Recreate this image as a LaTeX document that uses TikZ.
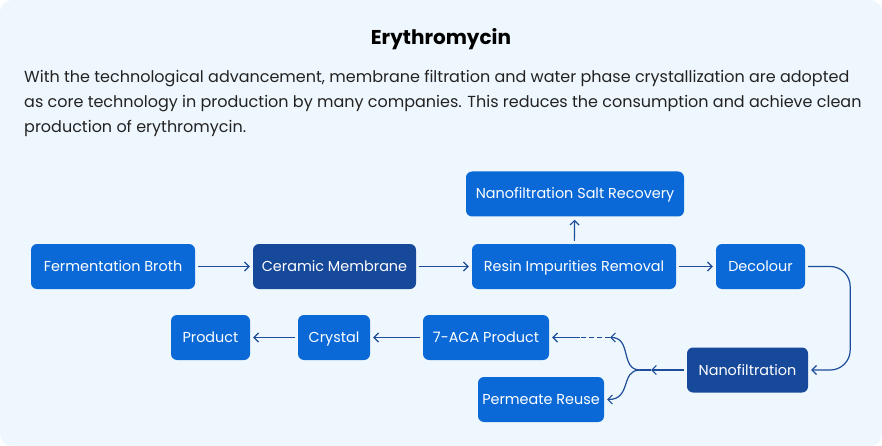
\documentclass[tikz,border=0pt]{standalone}
\usepackage{fontspec}
\setmainfont{Poppins}
\usepackage{tikz}
\usetikzlibrary{arrows.meta}

\definecolor{panel}{HTML}{EEF7FE}
\definecolor{brightblue}{HTML}{0A69D6}
\definecolor{deepblue}{HTML}{17499A}
\definecolor{linkblue}{HTML}{1D4C99}
\definecolor{bodytext}{HTML}{222222}

\tikzset{
  stage/.style={rectangle, rounded corners=6pt, fill=brightblue, text=white,
    minimum height=45pt, inner sep=0pt, text height=12.5pt, text depth=2.5pt,
    font=\fontsize{14.4}{17}\selectfont},
  darkstage/.style={stage, fill=deepblue},
  flow/.style={draw=linkblue, line width=1.2pt,
    -{Straight Barb[length=4.5pt,width=9pt,line width=1.2pt]},
    shorten <=3pt, shorten >=3pt}
}

\begin{document}
\begin{tikzpicture}[x=1pt,y=-1pt]
\useasboundingbox (0,0) rectangle (882,446);
\fill[white] (0,0) rectangle (882,446);
\fill[panel, rounded corners=12pt] (0,0) rectangle (882,446);

% heading and description
\node (title) at (441,39) {\fontsize{20}{24}\selectfont\bfseries Erythromycin};
\node[anchor=north west, text=bodytext, align=left, inner sep=0pt,
  font=\fontsize{16}{25}\selectfont] (desc) at (24,70)
  {With the technological advancement, membrane filtration and water phase crystallization are adopted\\
   as core technology in production by many companies. This reduces the consumption and achieve clean\\
   production of erythromycin.};

% process stages
\node[stage, minimum width=164pt] (broth) at (113,266.5) {Fermentation Broth};
\node[darkstage, minimum width=163pt] (ceramic) at (334.5,266.5) {Ceramic Membrane};
\node[stage, minimum width=204pt] (resin) at (574,266.5) {Resin Impurities Removal};
\node[stage, minimum width=89pt] (decolour) at (760.5,266.5) {Decolour};
\node[stage, minimum width=218pt] (salt) at (575,194) {Nanofiltration Salt Recovery};
\node[darkstage, minimum width=121pt] (nano) at (747.5,370) {Nanofiltration};
\node[stage, minimum width=126pt] (aca) at (486,337.5) {7-ACA Product};
\node[stage, minimum width=72pt] (crystal) at (334,337.5) {Crystal};
\node[stage, minimum width=79pt] (product) at (210.5,337.5) {Product};
\node[stage, minimum width=126pt] (permeate) at (541,399.5) {Permeate Reuse};

% helper points on the split after nanofiltration
\coordinate (forktip) at (651,370);
\coordinate (fork) at (640,370);
\coordinate (upper) at (610,337.5);
\coordinate (gap) at (580,337.5);
\coordinate (lower) at (607,399.5);

% connectors
\draw[flow] (broth) -- (ceramic);
\draw[flow] (ceramic) -- (resin);
\draw[flow] (resin) -- (decolour);
\draw[flow] (resin) -- (salt);
\draw[flow, rounded corners=20pt] (decolour.east) -- ++(45,0) |- (nano.east);
\draw[flow, shorten >=0pt] (nano) -- (forktip);
\draw[draw=linkblue, line width=1.2pt] (forktip) -- (fork);
\draw[flow, shorten <=0pt, shorten >=0pt] (fork) .. controls (620,370) and (632,337.5) .. (upper);
\draw[flow, shorten <=0pt, shorten >=0pt] (fork) .. controls (620,370) and (632,399.5) .. (lower);
\draw[draw=linkblue, line width=1.2pt, dash pattern=on 5pt off 3pt] (upper) -- (gap);
\draw[flow, shorten <=0pt] (gap) -- (aca);
\draw[flow] (aca) -- (crystal);
\draw[flow] (crystal) -- (product);
\end{tikzpicture}
\end{document}
